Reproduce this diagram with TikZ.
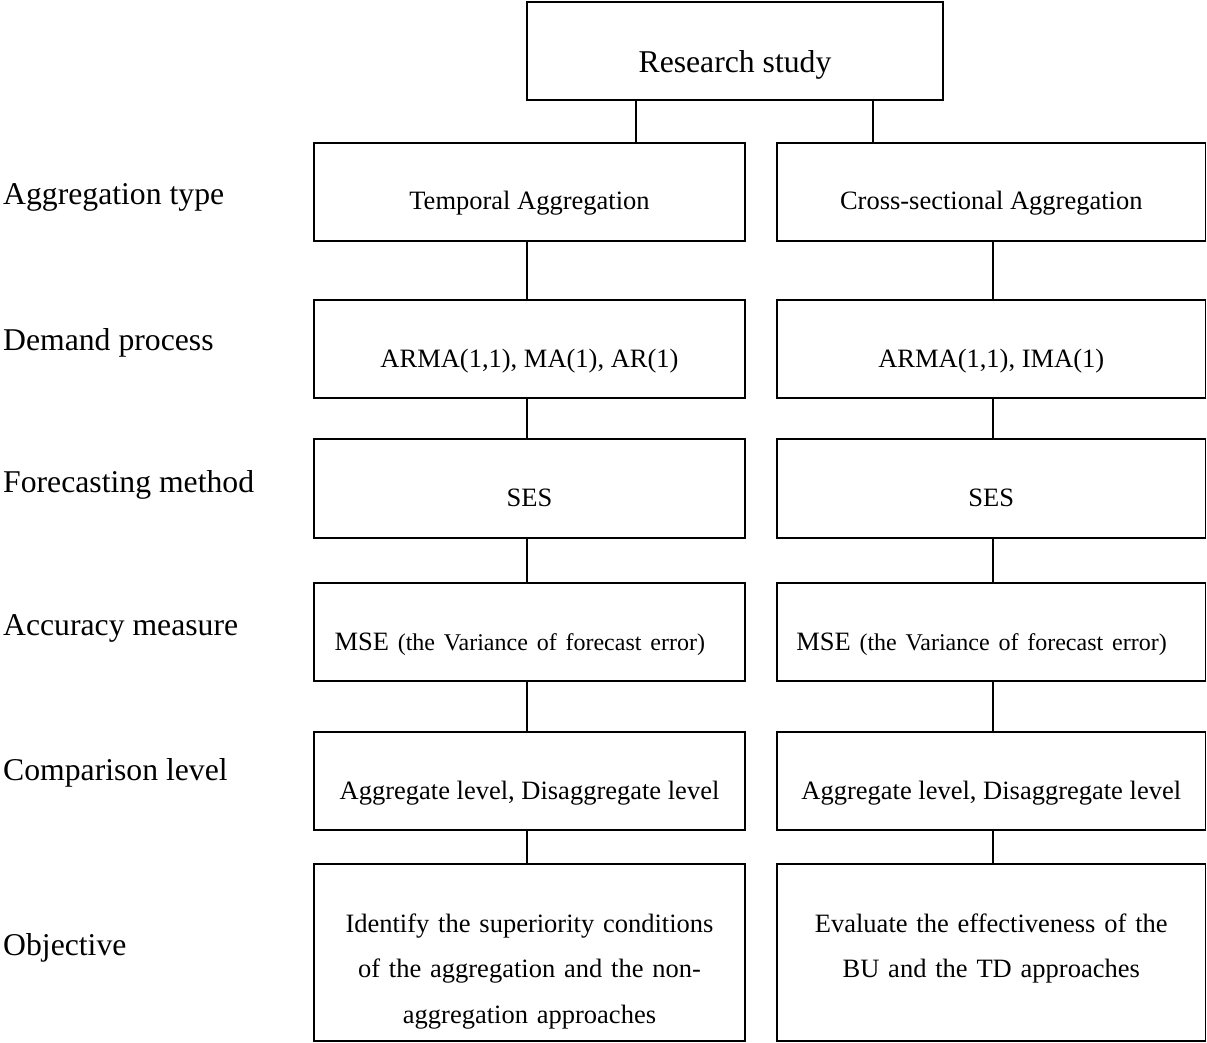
\documentclass[tikz,border=0pt]{standalone}
\usepackage{fontspec}
\setmainfont{Liberation Serif}

\newcommand{\rowfont}{\fontsize{31.7}{38}\selectfont}
\newcommand{\cellfont}{\fontsize{26.5}{45.5}\selectfont}
\newcommand{\notefont}{\fontsize{24}{29}\selectfont}

\tikzset{
  cell/.style={draw, line width=1.5pt, inner sep=0pt, font=\cellfont,
    minimum height=98pt, text height=36pt, text depth=0pt},
  cellL/.style={cell, minimum width=431pt},
  cellR/.style={cell, minimum width=428.5pt},
  rowlabel/.style={anchor=base west, inner sep=0pt, font=\rowfont},
  link/.style={line width=1.5pt}
}

\begin{document}
\begin{tikzpicture}[x=1pt,y=-1pt]
\useasboundingbox (0,0) rectangle (1207,1043);

% Top box
\node (study) [cell, font=\rowfont, minimum width=416pt, text height=44pt] at (735,51) {Research study};

% Row labels
\node (lbltype) [rowlabel] at (3,205) {Aggregation type};
\node (lbldemand) [rowlabel] at (3,350) {Demand process};
\node (lblmethod) [rowlabel] at (3,492) {Forecasting method};
\node (lblaccuracy) [rowlabel] at (3,635) {Accuracy measure};
\node (lblcompare) [rowlabel] at (3,780) {Comparison level};
\node (lblobjective) [rowlabel] at (3,955) {Objective};

% Left column
\node (temporal) [cellL] at (529.5,192) {Temporal Aggregation};
\node (armaL) [cellL] at (529.5,349) {ARMA(1,1), MA(1), AR(1)};
\node (sesL) [cellL, minimum height=99pt] at (529.5,488.5) {SES};
\node (mseL) [cellL, text width=390pt, align=left] at (529.5,632) {MSE {\notefont (the Variance of forecast error)}};
\node (levelL) [cellL] at (529.5,781) {Aggregate level, Disaggregate level};
\node (objL) [cellL, minimum height=177pt, text width=410pt, align=center, text height=20pt, text depth=61pt] at (529.5,952.5) {Identify the superiority conditions\\of the aggregation and the non-\\aggregation approaches};

% Right column
\node (cross) [cellR] at (991.25,192) {Cross-sectional Aggregation};
\node (armaR) [cellR] at (991.25,349) {ARMA(1,1), IMA(1)};
\node (sesR) [cellR, minimum height=99pt] at (991.25,488.5) {SES};
\node (mseR) [cellR, text width=390pt, align=left] at (991.25,632) {MSE {\notefont (the Variance of forecast error)}};
\node (levelR) [cellR] at (991.25,781) {Aggregate level, Disaggregate level};
\node (objR) [cellR, minimum height=177pt, text width=410pt, align=center, text height=20pt, text depth=61pt] at (991.25,952.5) {Evaluate the effectiveness of the\\BU and the TD approaches};

% Links from top box
\coordinate (tapL) at (636,0);
\coordinate (tapR) at (873,0);
\draw [link] (study.south -| tapL) -- (temporal.north -| tapL);
\draw [link] (study.south -| tapR) -- (cross.north -| tapR);

% Links down the columns
\coordinate (colL) at (527,0);
\coordinate (colR) at (993,0);
\draw [link] (temporal.south -| colL) -- (armaL.north -| colL);
\draw [link] (armaL.south -| colL) -- (sesL.north -| colL);
\draw [link] (sesL.south -| colL) -- (mseL.north -| colL);
\draw [link] (mseL.south -| colL) -- (levelL.north -| colL);
\draw [link] (levelL.south -| colL) -- (objL.north -| colL);
\draw [link] (cross.south -| colR) -- (armaR.north -| colR);
\draw [link] (armaR.south -| colR) -- (sesR.north -| colR);
\draw [link] (sesR.south -| colR) -- (mseR.north -| colR);
\draw [link] (mseR.south -| colR) -- (levelR.north -| colR);
\draw [link] (levelR.south -| colR) -- (objR.north -| colR);
\end{tikzpicture}
\end{document}
